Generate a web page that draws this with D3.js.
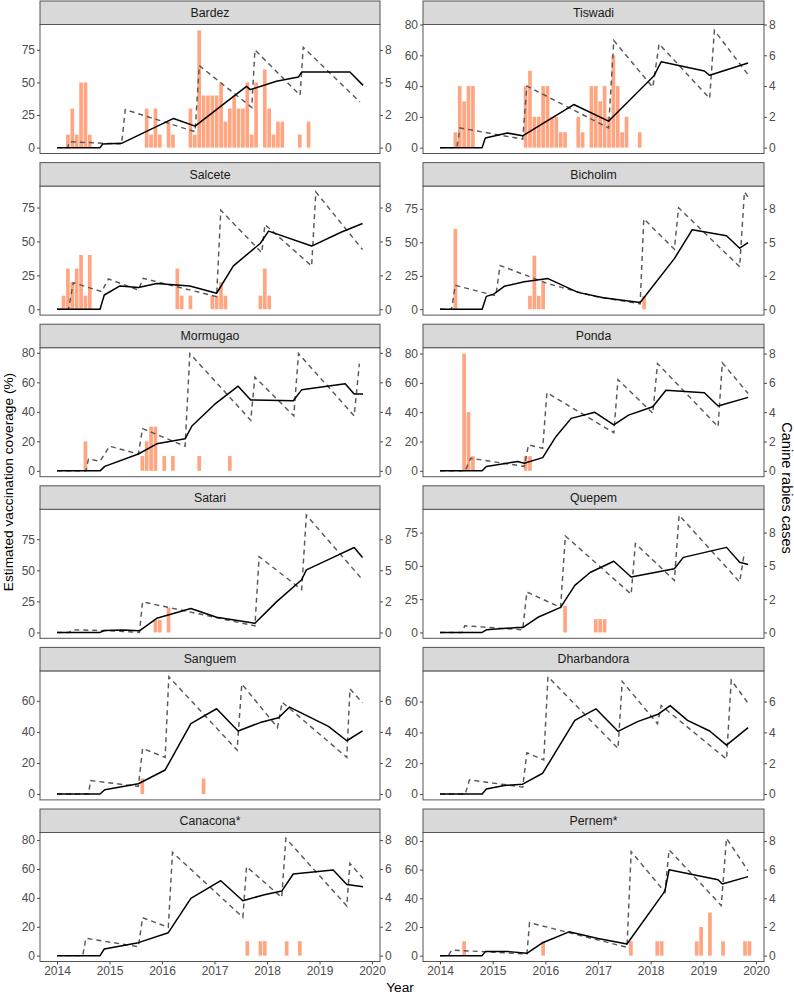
<!DOCTYPE html>
<html><head><meta charset="utf-8">
<script src="https://cdn.jsdelivr.net/npm/d3@7"></script>
<style>body{margin:0;background:#fff}svg{display:block}text{font-family:"Liberation Sans",Arial,sans-serif}</style>
</head><body>
<script>
// ---------- DATA ----------
const districts = ["Bardez","Tiswadi","Salcete","Bicholim","Mormugao","Ponda","Satari","Quepem","Sanguem","Dharbandora","Canacona*","Pernem*"];
const yearTicks = [2014,2015,2016,2017,2018,2019,2020];

// solid = estimated coverage, dashed = campaign coverage (year, %); cases = [month index from Jan 2014, count]
const bardezSolid = [[2014,0],[2014.82,0],[2014.87,2.8],[2015.23,3.3],[2016.22,22.4],[2016.63,16.5],[2017.61,47],[2017.68,44.5],[2018.18,50.9],[2018.6,54.2],[2018.66,58],[2019.58,58],[2019.83,47.8]];
const bardezDashed = [[2014,0],[2014.2,0],[2014.24,4.5],[2015.23,2.8],[2015.3,29.2],[2016.63,12.2],[2016.71,63],[2017.71,30.8],[2017.77,75],[2018.63,40.2],[2018.69,77],[2019.77,35]];
const bardezCases = [[2,1],[3,3],[4,1],[5,5],[6,5],[7,1],[20,3],[21,1],[22,3],[23,1],[25,2],[26,1],[30,3],[31,1],[32,9],[33,4],[34,4],[35,4],[36,4],[37,5],[38,2],[39,3],[40,4],[41,3],[42,3],[43,5],[44,1],[45,5],[47,6],[48,3],[49,1],[50,2],[51,2],[55,1],[57,2]];
const bardezTicks = [0,25,50,75];
const bardezRight = ["0","2","5","8"];

const tiswadiSolid = [[2014,0],[2014.8,0],[2014.86,6.2],[2015.28,9.5],[2015.57,7.7],[2016.54,28],[2017.2,17.2],[2018.06,46.5],[2018.2,55.8],[2019.02,49.8],[2019.12,47],[2019.85,55]];
const tiswadiDashed = [[2014,0],[2014.32,0],[2014.38,12.8],[2015.57,5.5],[2015.65,40],[2017.2,12.8],[2017.3,69.6],[2018.04,39.2],[2018.16,67.4],[2019.12,32],[2019.21,76.2],[2019.85,47.4]];
const tiswadiCases = [[3,1],[4,4],[5,3],[6,4],[7,4],[19,4],[20,5],[21,2],[22,2],[23,4],[24,4],[25,2],[26,2],[27,1],[28,1],[31,2],[32,1],[34,4],[35,4],[36,3],[37,4],[38,2],[39,6],[40,4],[41,1],[42,2],[45,1]];
const tiswadiTicks = [0,20,40,60,80];
const tiswadiRight = ["0","2","4","6","8"];

const salceteSolid = [[2014,0],[2014.82,0],[2014.9,10.5],[2015.2,17.2],[2015.55,16],[2015.9,19],[2016.53,17.2],[2017.04,11.8],[2017.36,32],[2017.87,48.5],[2018.03,57.6],[2018.85,46.6],[2019.42,57],[2019.82,63.2]];
const salceteDashed = [[2014,0],[2014.22,0],[2014.31,19.6],[2014.85,13],[2014.98,22.3],[2015.55,14.2],[2015.64,22.8],[2017.04,9.3],[2017.12,73],[2017.9,41.7],[2017.96,62.5],[2018.85,31.9],[2018.93,86.5],[2019.82,44]];
const salceteCases = [[1,1],[2,3],[3,2],[4,3],[5,4],[6,1],[7,4],[27,3],[28,1],[30,1],[35,1],[36,1],[37,2],[38,1],[46,1],[47,3],[48,1]];
const salceteTicks = [0,25,50,75];
const salceteRight = ["0","2","5","8"];

const bicholimSolid = [[2014,0],[2014.8,0],[2014.88,9.6],[2015.02,11.3],[2015.22,17.1],[2015.6,20.5],[2016.05,22.9],[2016.62,12.6],[2017.1,8.5],[2017.8,5],[2018.45,37.8],[2018.79,59.4],[2019.44,54.9],[2019.69,45.6],[2019.85,49.8]];
const bicholimDashed = [[2014,0],[2014.22,0],[2014.29,17.9],[2015.06,10],[2015.14,32.7],[2016.05,19.1],[2016.94,9.6],[2017.8,4],[2017.87,67.5],[2018.45,44.8],[2018.53,75.8],[2019.69,31.7],[2019.78,87.6],[2019.85,83.8]];
const bicholimCases = [[3,6],[20,1],[21,4],[22,1],[23,2],[46,1]];
const bicholimTicks = [0,25,50,75];
const bicholimRight = ["0","2","5","8"];

const mormugaoSolid = [[2014,0],[2014.82,0],[2014.91,3],[2015.55,11.4],[2015.9,18.3],[2016.44,21.7],[2016.57,30.4],[2017.0,45],[2017.45,57.4],[2017.69,48],[2018.5,47.5],[2018.66,54.9],[2019.49,59],[2019.66,52.1],[2019.83,52.1]];
const mormugaoDashed = [[2014,0],[2014.55,0],[2014.6,8],[2014.82,6.5],[2015.0,16.7],[2015.55,11.4],[2015.63,28.6],[2016.44,16.7],[2016.53,79.5],[2017.69,34.3],[2017.77,63.5],[2018.51,37.3],[2018.6,79.5],[2019.66,37.3],[2019.76,72.7]];
const mormugaoCases = [[6,2],[19,1],[20,2],[21,3],[22,3],[24,1],[26,1],[32,1],[39,1]];
const mormugaoTicks = [0,20,40,60,80];
const mormugaoRight = ["0","2","4","6","8"];

const pondaSolid = [[2014,0],[2014.8,0],[2014.88,3],[2015.47,6.3],[2015.6,5.2],[2015.95,9],[2016.2,23.3],[2016.49,35.8],[2016.94,39.9],[2017.3,31.3],[2017.58,38],[2018.04,43.7],[2018.29,55],[2019.02,53.3],[2019.28,44.2],[2019.85,50.1]];
const pondaDashed = [[2014,0],[2014.48,0],[2014.58,8.6],[2015.6,3],[2015.68,17.7],[2015.95,15.4],[2016.03,53.3],[2017.3,26],[2017.38,62.3],[2018.04,39.2],[2018.13,73.2],[2019.28,30.1],[2019.36,73.7],[2019.85,52.8]];
const pondaCases = [[5,8],[6,4],[7,1],[19,1],[20,1]];
const pondaTicks = [0,20,40,60,80];
const pondaRight = ["0","2","4","6","8"];

const satariSolid = [[2014,0],[2014.82,0],[2014.9,1.6],[2015.26,1.9],[2015.57,1.3],[2015.9,11.4],[2016.55,19.3],[2017.04,12.2],[2017.77,7.4],[2018.18,24.6],[2018.66,42.4],[2018.75,50.4],[2019.26,60.4],[2019.66,68.4],[2019.82,60.4]];
const satariDashed = [[2014,0],[2014.22,0],[2014.3,2.1],[2014.82,1.6],[2015.2,1],[2015.57,0],[2015.63,24.6],[2017.77,5.3],[2017.85,61],[2018.66,34.5],[2018.75,94.4],[2019.82,42.4]];
const satariCases = [[22,1],[23,1],[25,2]];
const satariTicks = [0,25,50,75];
const satariRight = ["0","2","5","8"];

const quepemSolid = [[2014,0],[2014.8,0],[2014.88,2],[2015.47,3.7],[2015.57,3.7],[2015.86,11.4],[2016.29,18.8],[2016.56,35.4],[2016.85,45],[2017.3,53.5],[2017.63,41.6],[2018.45,47.8],[2018.62,56.4],[2019.44,63.9],[2019.69,52.7],[2019.85,51]];
const quepemDashed = [[2014,0],[2014.42,0],[2014.47,5],[2015.57,2],[2015.65,30.4],[2016.29,18.8],[2016.38,72.5],[2017.63,28.7],[2017.71,66.8],[2018.45,39.1],[2018.54,88.1],[2019.69,37.9],[2019.78,60.1]];
const quepemCases = [[28,2],[35,1],[36,1],[37,1]];
const quepemTicks = [0,25,50,75];
const quepemRight = ["0","2","5","8"];

const sanguemSolid = [[2014,0],[2014.82,0],[2014.91,2.8],[2015.55,6.6],[2016.06,15.5],[2016.55,45.3],[2017.04,54.9],[2017.45,40.6],[2017.87,46],[2018.22,49.1],[2018.43,56],[2019.17,43.6],[2019.52,34.3],[2019.82,40.6]];
const sanguemDashed = [[2014,0],[2014.6,0],[2014.64,8.7],[2015.55,4.9],[2015.63,29.4],[2016.06,23.6],[2016.13,75.5],[2017.43,28.3],[2017.52,70.9],[2018.2,42.8],[2018.29,59.1],[2019.52,23.6],[2019.58,67.7],[2019.82,58.7]];
const sanguemCases = [[19,1],[33,1]];
const sanguemTicks = [0,20,40,60];
const sanguemRight = ["0","2","4","6"];

const dharbandoraSolid = [[2014,0],[2014.8,0],[2014.88,3.2],[2015.22,5.6],[2015.57,6.4],[2015.95,13.5],[2016.56,47.8],[2016.96,55.3],[2017.38,40.7],[2017.75,47],[2018.13,51.6],[2018.37,57.4],[2018.7,47.8],[2019.12,40.9],[2019.44,31.7],[2019.85,43.1]];
const dharbandoraDashed = [[2014,0],[2014.48,0],[2014.56,9.2],[2015.57,4.5],[2015.65,26.8],[2015.97,22.1],[2016.05,76.1],[2017.38,29.6],[2017.46,73.1],[2018.13,45.6],[2018.2,57.4],[2019.44,22.7],[2019.53,73.9],[2019.85,58.9]];
const dharbandoraCases = [];
const dharbandoraTicks = [0,20,40,60];
const dharbandoraRight = ["0","2","4","6"];

const canaconaSolid = [[2014,0],[2014.82,0],[2014.9,4.6],[2015.55,9],[2016.12,15.9],[2016.55,39.7],[2017.12,51.9],[2017.54,38],[2017.93,42],[2018.28,44.7],[2018.5,56.5],[2019.26,59.3],[2019.52,49.3],[2019.83,47.7]];
const canaconaDashed = [[2014,0],[2014.49,0],[2014.55,12],[2015.55,6.2],[2015.63,26.3],[2016.12,19.6],[2016.2,71.5],[2017.54,26.5],[2017.61,61.6],[2018.28,40.3],[2018.36,81.2],[2019.52,34.4],[2019.58,63.9],[2019.83,53.5]];
const canaconaCases = [[43,1],[46,1],[47,1],[52,1],[55,1]];
const canaconaTicks = [0,20,40,60,80];
const canaconaRight = ["0","2","4","6","8"];

const pernemSolid = [[2014,0],[2014.8,0],[2014.86,2.8],[2015.31,2.8],[2015.65,1.6],[2015.95,9],[2016.45,16.6],[2017.0,12],[2017.55,8.1],[2018.27,45],[2018.35,59.9],[2019.28,53],[2019.36,50],[2019.85,55.1]];
const pernemDashed = [[2014,0],[2014.16,0],[2014.22,3.9],[2015.65,1.2],[2015.7,23],[2017.55,5.8],[2017.63,72.6],[2018.27,44.3],[2018.35,73.8],[2019.34,35],[2019.44,81.8],[2019.85,59.2]];
const pernemCases = [[5,1],[23,1],[43,1],[49,1],[50,1],[58,1],[59,2],[61,3],[64,1],[69,1],[70,1]];
const pernemTicks = [0,20,40,60,80];
const pernemRight = ["0","2","4","6","8"];

// ---------- BUILD ----------
const panels = [
  [bardezSolid,bardezDashed,bardezCases,bardezTicks,bardezRight],
  [tiswadiSolid,tiswadiDashed,tiswadiCases,tiswadiTicks,tiswadiRight],
  [salceteSolid,salceteDashed,salceteCases,salceteTicks,salceteRight],
  [bicholimSolid,bicholimDashed,bicholimCases,bicholimTicks,bicholimRight],
  [mormugaoSolid,mormugaoDashed,mormugaoCases,mormugaoTicks,mormugaoRight],
  [pondaSolid,pondaDashed,pondaCases,pondaTicks,pondaRight],
  [satariSolid,satariDashed,satariCases,satariTicks,satariRight],
  [quepemSolid,quepemDashed,quepemCases,quepemTicks,quepemRight],
  [sanguemSolid,sanguemDashed,sanguemCases,sanguemTicks,sanguemRight],
  [dharbandoraSolid,dharbandoraDashed,dharbandoraCases,dharbandoraTicks,dharbandoraRight],
  [canaconaSolid,canaconaDashed,canaconaCases,canaconaTicks,canaconaRight],
  [pernemSolid,pernemDashed,pernemCases,pernemTicks,pernemRight]
].map((p,i)=>({name:districts[i],solid:p[0],dashed:p[1],cases:p[2],ticks:p[3],right:p[4]}));

const W=794,H=996;
const svg=d3.select("body").append("svg").attr("width",W).attr("height",H);
const colX=[[40,380],[423,764]];
const rowTop=r=>1+r*161.6;
const stripH=23.5, plotH=129;
const caseScale=10;
const tickFont=12;

panels.forEach((p,i)=>{
  const col=i%2,row=Math.floor(i/2);
  const [x0,x1]=colX[col];
  const sTop=rowTop(row), pTop=sTop+stripH, pBot=pTop+plotH;
  const pxYear=(x1-x0-17-8)/6;
  const x=d3.scaleLinear().domain([2014-17/pxYear,2020+8/pxYear]).range([x0,x1]);
  const M=d3.max([d3.max(p.solid,d=>d[1]),d3.max(p.dashed,d=>d[1]),d3.max(p.cases,d=>d[1]*caseScale)||0]);
  const y=d3.scaleLinear().domain([-0.05*M,1.05*M]).range([pBot,pTop]);
  const g=svg.append("g");
  g.append("rect").attr("x",x0).attr("y",pTop).attr("width",x1-x0).attr("height",plotH).attr("fill","#fff");
  const bw=(x(2015)-x(2014))/12;
  g.selectAll("rect.bar").data(p.cases).join("rect").attr("class","bar")
    .attr("x",d=>x(2014+(d[0]+0.5)/12)-bw*0.42).attr("width",bw*0.84)
    .attr("y",d=>y(d[1]*caseScale)).attr("height",d=>y(0)-y(d[1]*caseScale))
    .attr("fill","#FFA07A").attr("fill-opacity",0.95);
  const line=d3.line().x(d=>x(d[0])).y(d=>y(d[1]));
  g.append("path").attr("d",line(p.dashed)).attr("fill","none").attr("stroke","#595959").attr("stroke-width",1.45).attr("stroke-dasharray","5,4");
  g.append("path").attr("d",line(p.solid)).attr("fill","none").attr("stroke","#000").attr("stroke-width",1.5).attr("stroke-linejoin","round");
  g.append("rect").attr("x",x0).attr("y",pTop).attr("width",x1-x0).attr("height",plotH).attr("fill","none").attr("stroke","#555").attr("stroke-width",1);
  g.append("rect").attr("x",x0).attr("y",sTop).attr("width",x1-x0).attr("height",stripH).attr("fill","#d9d9d9").attr("stroke","#555").attr("stroke-width",1);
  g.append("text").attr("x",(x0+x1)/2).attr("y",sTop+stripH/2+4.3).attr("text-anchor","middle").attr("font-size",12.3).attr("fill","#1a1a1a").text(p.name);
  const yl=d3.axisLeft(y).tickValues(p.ticks).tickSize(3).tickPadding(2);
  const yr=d3.axisRight(y).tickValues(p.ticks).tickSize(3).tickPadding(2).tickFormat((d,k)=>p.right[k]);
  [ [yl,x0], [yr,x1] ].forEach(([ax,xx])=>{
    const a=g.append("g").attr("transform",`translate(${xx},0)`).call(ax);
    a.select(".domain").remove();
    a.selectAll("line").attr("stroke","#4d4d4d");
    a.selectAll("text").attr("fill","#4d4d4d").attr("font-size",tickFont).attr("font-family","Liberation Sans, Arial, sans-serif");
  });
  if(row===5){
    const xa=g.append("g").attr("transform",`translate(0,${pBot})`).call(d3.axisBottom(x).tickValues(yearTicks).tickFormat(d3.format("d")).tickSize(3).tickPadding(2));
    xa.select(".domain").remove();
    xa.selectAll("line").attr("stroke","#4d4d4d");
    xa.selectAll("text").attr("fill","#4d4d4d").attr("font-size",tickFont).attr("font-family","Liberation Sans, Arial, sans-serif");
  }
});
svg.append("text").attr("transform","translate(13,482) rotate(-90)").attr("text-anchor","middle").attr("font-size",13.7).attr("fill","#000").text("Estimated vaccination coverage (%)");
svg.append("text").attr("transform","translate(782,488) rotate(90)").attr("text-anchor","middle").attr("font-size",14.5).attr("fill","#000").text("Canine rabies cases");
svg.append("text").attr("x",400).attr("y",992).attr("text-anchor","middle").attr("font-size",13.7).attr("fill","#000").text("Year");
</script>
</body></html>
